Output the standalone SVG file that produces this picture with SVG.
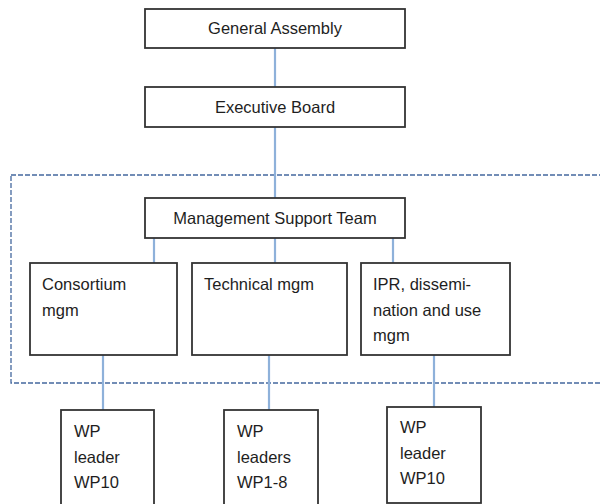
<svg xmlns="http://www.w3.org/2000/svg" width="600" height="504" viewBox="0 0 600 504">
  <style>
    .box { fill: #ffffff; stroke: #333333; stroke-width: 1.8; }
    .lbl { font-family: "Liberation Sans", Arial, sans-serif; font-size: 16.5px; fill: #1e1e1e; }
    .mid { text-anchor: middle; }
    .link { stroke: #8eb1da; stroke-width: 2.2; fill: none; }
    .frame { fill: none; stroke: #44689e; stroke-width: 1.3; stroke-dasharray: 5 2; }
  </style>
  <rect width="600" height="504" fill="#ffffff"/>

  <!-- dashed management boundary -->
  <rect class="frame" x="11" y="175" width="600" height="208"/>

  <!-- connectors -->
  <g id="connectors">
    <line class="link" x1="275" y1="48" x2="275" y2="87"/>
    <line class="link" x1="275" y1="127" x2="275" y2="198"/>
    <line class="link" x1="154" y1="238" x2="154" y2="263"/>
    <line class="link" x1="275" y1="238" x2="275" y2="263"/>
    <line class="link" x1="393" y1="238" x2="393" y2="263"/>
    <line class="link" x1="103" y1="355" x2="103" y2="410"/>
    <line class="link" x1="269" y1="355" x2="269" y2="410"/>
    <line class="link" x1="434" y1="352" x2="434" y2="407"/>
  </g>

  <g id="general-assembly">
    <rect class="box" x="145" y="9" width="260" height="39"/>
    <text class="lbl mid" x="275" y="34">General Assembly</text>
  </g>

  <g id="executive-board">
    <rect class="box" x="145" y="87" width="260" height="40"/>
    <text class="lbl mid" x="275" y="113">Executive Board</text>
  </g>

  <g id="management-support-team">
    <rect class="box" x="145" y="198" width="260" height="40"/>
    <text class="lbl mid" x="275" y="224">Management Support Team</text>
  </g>

  <g id="consortium-mgm">
    <rect class="box" x="30" y="263" width="147" height="92"/>
    <text class="lbl" x="42" y="290">Consortium</text>
    <text class="lbl" x="42" y="316">mgm</text>
  </g>

  <g id="technical-mgm">
    <rect class="box" x="192" y="263" width="155" height="92"/>
    <text class="lbl" x="204" y="290">Technical mgm</text>
  </g>

  <g id="ipr-mgm">
    <rect class="box" x="361" y="263" width="149" height="92"/>
    <text class="lbl" x="373" y="290">IPR, dissemi-</text>
    <text class="lbl" x="373" y="316">nation and use</text>
    <text class="lbl" x="373" y="341">mgm</text>
  </g>

  <g id="wp-leader-left">
    <rect class="box" x="61" y="410" width="93" height="100"/>
    <text class="lbl" x="74" y="437">WP</text>
    <text class="lbl" x="74" y="463">leader</text>
    <text class="lbl" x="74" y="488">WP10</text>
  </g>

  <g id="wp-leaders-middle">
    <rect class="box" x="224" y="410" width="94" height="100"/>
    <text class="lbl" x="237" y="437">WP</text>
    <text class="lbl" x="237" y="463">leaders</text>
    <text class="lbl" x="237" y="488">WP1-8</text>
  </g>

  <g id="wp-leader-right">
    <rect class="box" x="387" y="407" width="94" height="96"/>
    <text class="lbl" x="400" y="433">WP</text>
    <text class="lbl" x="400" y="459">leader</text>
    <text class="lbl" x="400" y="484">WP10</text>
  </g>
</svg>
